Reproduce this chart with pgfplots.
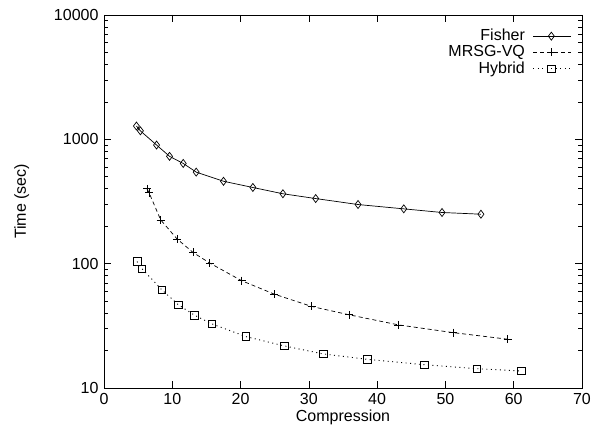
\documentclass[border=0pt]{standalone}
\usepackage{fontspec}
\setmainfont{Liberation Sans}
\usepackage{pgfplots}
\pgfplotsset{compat=1.18}
\begin{document}
\fontsize{16}{18}\selectfont
\begin{tikzpicture}
\begin{axis}[name=ax, scale only axis, width=478pt, height=373pt,
  ymode=log, xmin=0, xmax=70, ymin=10, ymax=10000,
  xtick={0,10,...,70},
  ytick={10,100,1000,10000},
  yticklabels={10,100,1000,10000},
  tick align=inside, major tick length=7pt, minor tick length=4pt,
  xtick pos=both, ytick pos=both,
  /pgf/number format/assume math mode=true,
  tick label style={font=\fontsize{16}{18}\selectfont},
  label style={font=\fontsize{16}{18}\selectfont},
  xlabel={Compression}, ylabel={Time (sec)},
  xlabel style={yshift=6pt},
  ylabel style={yshift=14pt},
  axis line style={line width=0.9pt},
  every tick/.style={black, line width=0.7pt},
  legend style={draw=none, fill=none, at={(1,1)}, anchor=north east,
    xshift=-7pt, yshift=-10pt,
    font=\fontsize{16}{18}\selectfont, row sep=-1.5pt,
    /tikz/every odd column/.append style={column sep=6pt}},
  legend cell align=right, legend plot pos=right,
  legend image code/.code={\draw[mark repeat=2, mark phase=2, #1]
    plot coordinates {(0pt,0pt) (18pt,0pt) (38pt,0pt)};},
  every axis plot/.append style={black, line width=0.7pt},
]
\addplot[solid, mark=diamond, mark size=4pt, mark options={solid}] coordinates {
 (4.75,1280) (5.33,1170) (7.7,900) (9.6,730) (11.6,640) (13.5,545) (17.5,460)
 (21.8,410) (26.2,365) (31.0,334) (37.2,299) (43.9,276) (49.5,258) (55.2,250)};
\addplot[dash pattern=on 4pt off 3pt, mark=+, mark size=4pt, mark options={solid}] coordinates {
 (6.3,400) (6.6,372) (8.3,225) (10.7,158) (13.05,123) (15.5,101) (20.15,73)
 (24.9,57) (30.4,45.3) (35.9,38.8) (43.1,32.2) (51.1,27.9) (59.1,24.7)};
\addplot[line width=0.9pt, dash pattern=on 1pt off 3.5pt, mark=square, mark size=3.8pt, mark options={solid, line width=0.7pt}] coordinates {
 (4.84,104) (5.57,91) (8.5,61.4) (10.9,46.7) (13.25,38.5) (15.8,32.8) (20.8,25.9)
 (26.4,21.8) (32.1,18.8) (38.6,17.0) (46.9,15.4) (54.6,14.3) (61.1,13.7)};
\legend{Fisher, MRSG-VQ, Hybrid}
\end{axis}
\pgfresetboundingbox
\path ([xshift=-104pt,yshift=-42pt]ax.south west) rectangle ([xshift=14pt,yshift=15pt]ax.north east);
\end{tikzpicture}
\end{document}
